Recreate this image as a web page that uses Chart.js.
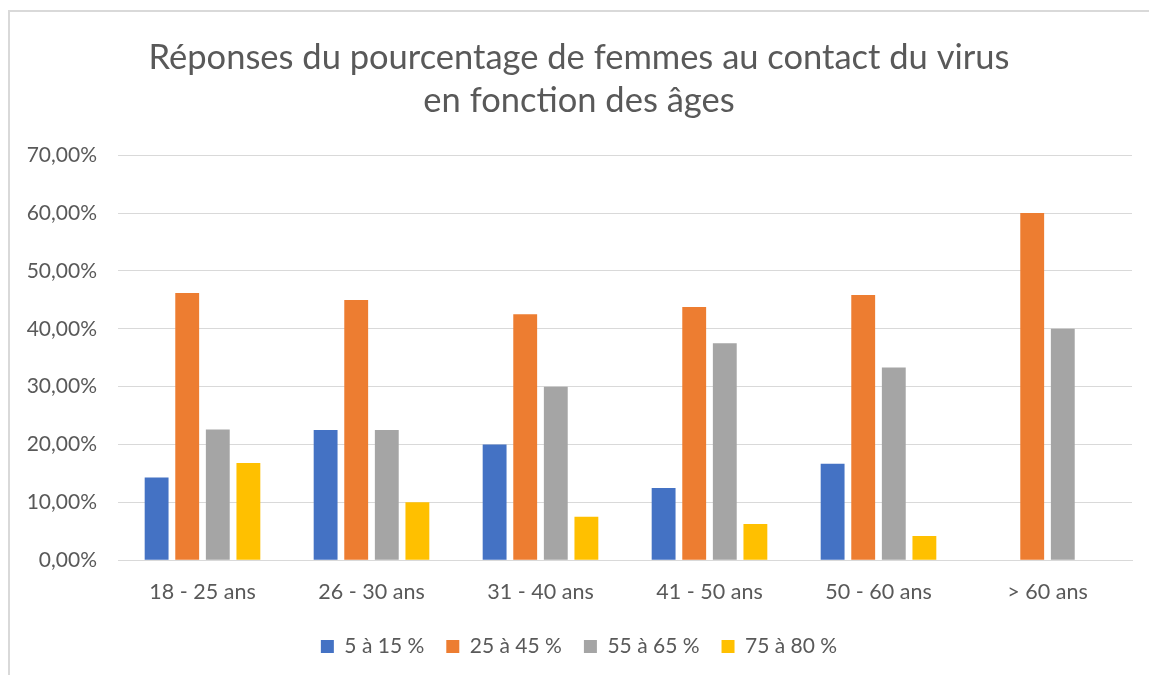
<!DOCTYPE html>
<html lang="fr">
<head>
<meta charset="utf-8">
<title>Réponses du pourcentage de femmes au contact du virus</title>
<script src="https://cdn.jsdelivr.net/npm/chart.js@4.4.1/dist/chart.umd.min.js"></script>
<style>
  html, body { margin: 0; padding: 0; background: #fff; }
  #frame {
    position: absolute; left: 8px; top: 10px; right: 0; bottom: 0;
    border-left: 2px solid #d9d9d9; border-top: 2px solid #d9d9d9;
  }
  #chart { position: absolute; left: 0; top: 0; }
</style>
</head>
<body>
<div id="frame"></div>
<canvas id="chart" width="1149" height="675"></canvas>
<script>
// Tranches d'âge et pourcentages par classe de réponse
const ageGroups = ["18 - 25 ans", "26 - 30 ans", "31 - 40 ans", "41 - 50 ans", "50 - 60 ans", "> 60 ans"];
const seriesNames = ["5 à 15 %", "25 à 45 %", "55 à 65 %", "75 à 80 %"];
const rep5to15 = [14.29, 22.5, 20, 12.5, 16.67, null];
const rep25to45 = [46.2, 45, 42.5, 43.75, 45.83, 60];
const rep55to65 = [22.6, 22.5, 30, 37.5, 33.33, 40];
const rep75to80 = [16.8, 10, 7.5, 6.25, 4.17, null];
const yTicks = [0, 10, 20, 30, 40, 50, 60, 70];

const colors = ["#4472C4", "#ED7D31", "#A5A5A5", "#FFC000"];
const textColor = "#595959";
const gridColor = "#D9D9D9";
const fontFamily = "Lato, 'Open Sans', sans-serif";

const values = [rep5to15, rep25to45, rep55to65, rep75to80];

new Chart(document.getElementById("chart").getContext("2d"), {
  type: "bar",
  data: {
    labels: ageGroups,
    datasets: seriesNames.map((name, i) => ({
      label: name,
      data: values[i],
      backgroundColor: colors[i],
      categoryPercentage: 0.724,
      barPercentage: 0.78
    }))
  },
  options: {
    responsive: false,
    animation: false,
    // 26 px à gauche + 92 px d'axe Y : la zone de tracé commence à x = 118
    layout: { padding: { left: 26, right: 17, top: 0, bottom: 8 } },
    plugins: {
      title: {
        display: true,
        text: ["Réponses du pourcentage de femmes au contact du virus", "en fonction des âges"],
        color: textColor,
        font: { family: fontFamily, size: 34.5, weight: "normal", lineHeight: 1.25 },
        padding: { top: 36, bottom: 33 }
      },
      legend: {
        position: "bottom",
        labels: {
          color: textColor,
          font: { family: fontFamily, size: 21 },
          boxWidth: 13,
          boxHeight: 13,
          padding: 22
        }
      },
      tooltip: { enabled: false }
    },
    scales: {
      x: {
        afterFit(axis) { axis.height -= 10; },
        grid: { display: false, drawTicks: false },
        border: { color: gridColor, width: 1 },
        ticks: { color: textColor, font: { family: fontFamily, size: 21.5 }, padding: 19 }
      },
      y: {
        min: 0,
        max: 70,
        afterFit(axis) { axis.width = 92; },
        afterBuildTicks(axis) { axis.ticks = yTicks.map(v => ({ value: v })); },
        grid: { color: gridColor, lineWidth: 1, drawTicks: false },
        border: { display: false },
        ticks: {
          color: textColor,
          font: { family: fontFamily, size: 21 },
          padding: 21,
          callback: v => v.toFixed(2).replace(".", ",") + "%"
        }
      }
    }
  }
});
</script>
</body>
</html>
